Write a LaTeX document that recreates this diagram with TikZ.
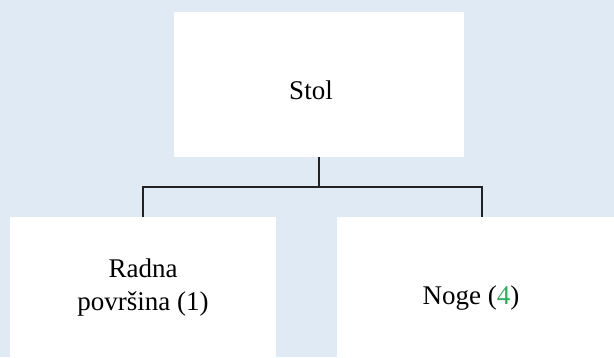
\documentclass[tikz,border=0pt]{standalone}
\usepackage{fontspec}
\setmainfont{Liberation Serif}
\usepackage{tikz}
\usetikzlibrary{positioning}
\definecolor{panelblue}{RGB}{224,234,244}
\definecolor{linegray}{RGB}{34,34,34}
\definecolor{countgreen}{RGB}{41,176,90}
\tikzstyle{part}=[rectangle, fill=white, inner sep=0pt]
\tikzstyle{partlabel}=[inner sep=0pt, align=center, font=\fontsize{27}{33}\selectfont]
\tikzstyle{link}=[line width=2.4pt, color=linegray]

\begin{document}
\begin{tikzpicture}[x=1pt, y=1pt]
  \fill[panelblue] (0,0) rectangle (614,357);
  \clip (0,0) rectangle (614,357);
  % boxes
  \node[part, minimum width=290pt, minimum height=145pt] (stol) at (319,272.5) {};
  \node[part, minimum width=266pt, minimum height=140pt] (ploca) at (143,70) {};
  \node[part, minimum width=290pt, minimum height=140pt] (noge) at (482,70) {};
  % texts
  \node[partlabel, anchor=base] (stoltxt) at (311,257) {Stol};
  \node[partlabel] (plocatxt) at (143,69) {Radna\\površina (1)};
  \node[partlabel, anchor=base] (nogetxt) at (471,53) {Noge (\textcolor{countgreen}{4})};
  % connectors
  \draw[link] (stol.south) -- ++(0,-29.7) coordinate (bus);
  \draw[link] (ploca.north) |- (bus) -| (noge.north);
\end{tikzpicture}
\end{document}
